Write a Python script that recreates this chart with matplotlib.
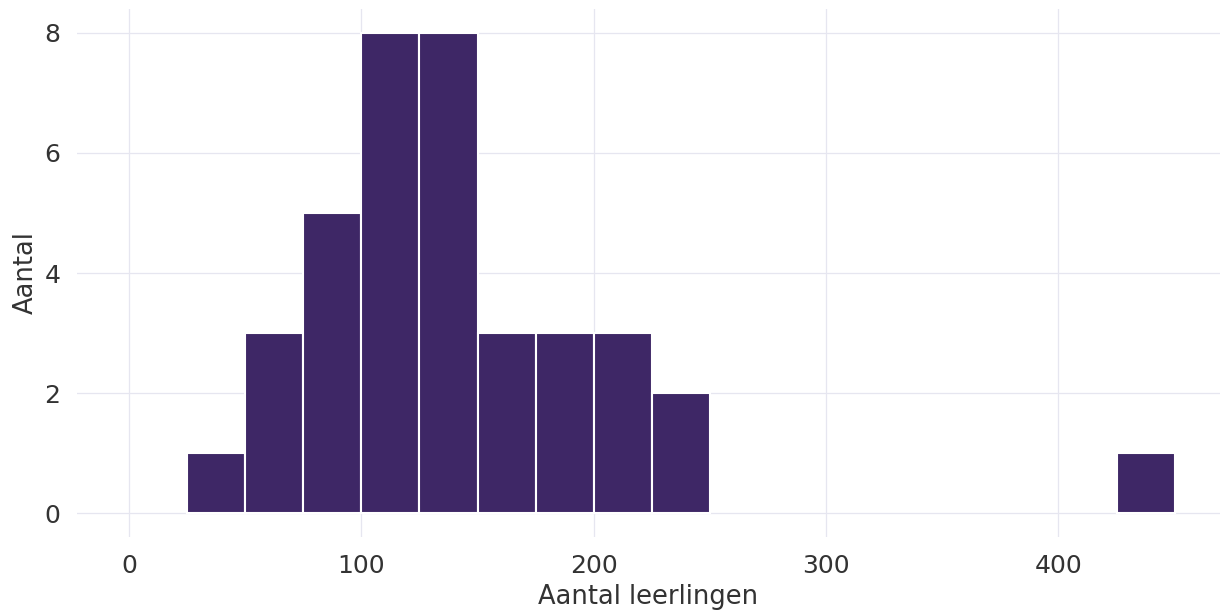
import matplotlib
matplotlib.use("Agg")
import matplotlib.pyplot as plt

# Histogram bins (left edges) and counts
bin_left = [25, 50, 75, 100, 125, 150, 175, 200, 225, 425]
counts = [1, 3, 5, 8, 8, 3, 3, 3, 2, 1]
bin_width = 25

x_ticks = [0, 100, 200, 300, 400]
y_ticks = [0, 2, 4, 6, 8]

fig = plt.figure(figsize=(12.24, 6.13), dpi=100)
ax = fig.add_axes([0.0629, 0.1233, 0.9338, 0.8625])

ax.bar(bin_left, counts, width=bin_width, align="edge",
       color="#3e2766", edgecolor="white", linewidth=1.5, zorder=3)

ax.set_xlim(-22.4, 469.5)
ax.set_ylim(-0.4, 8.4)
ax.set_xticks(x_ticks)
ax.set_yticks(y_ticks)

ax.grid(True, color="#e6e6f0", linewidth=0.9, zorder=0)
for s in ax.spines.values():
    s.set_visible(False)
ax.tick_params(length=0, labelsize=18, labelcolor="#333333", pad=12)

ax.set_xlabel("Aantal leerlingen", fontsize=18.5, color="#333333", labelpad=4)
ax.set_ylabel("Aantal", fontsize=18.5, color="#333333", labelpad=4)

fig.savefig("out.png", dpi=100, facecolor="white")
